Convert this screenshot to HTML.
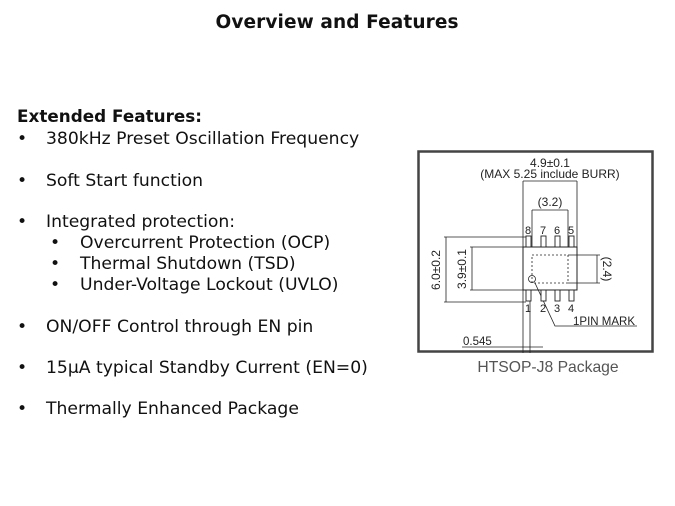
<!DOCTYPE html>
<html><head><meta charset="utf-8"><style>
html,body{margin:0;padding:0;background:#fff;}
svg{display:block;}
.t{font-family:"DejaVu Sans",Verdana,sans-serif;font-size:17.2px;fill:#111;}
.d{font-family:"Liberation Sans",Arial,sans-serif;fill:#222;}
</style></head><body>
<svg width="675" height="506" viewBox="0 0 675 506" xmlns="http://www.w3.org/2000/svg">
<text x="337" y="28" text-anchor="middle" textLength="243" style="font-family:'DejaVu Sans',Verdana,sans-serif;font-weight:bold;font-size:18.5px;fill:#111">Overview and Features</text>
<text x="17" y="122" textLength="185" style="font-family:'DejaVu Sans',Verdana,sans-serif;font-weight:bold;font-size:16.8px;fill:#111">Extended Features:</text>
<g class="t">
<text x="17" y="144">•</text><text x="46" y="144">380kHz Preset Oscillation Frequency</text>
<text x="17" y="186">•</text><text x="46" y="186">Soft Start function</text>
<text x="17" y="227">•</text><text x="46" y="227">Integrated protection:</text>
<text x="50" y="248">•</text><text x="80" y="248">Overcurrent Protection (OCP)</text>
<text x="50" y="269">•</text><text x="80" y="269">Thermal Shutdown (TSD)</text>
<text x="50" y="290">•</text><text x="80" y="290">Under-Voltage Lockout (UVLO)</text>
<text x="17" y="332">•</text><text x="46" y="332">ON/OFF Control through EN pin</text>
<text x="17" y="373">•</text><text x="46" y="373">15µA typical Standby Current (EN=0)</text>
<text x="17" y="414">•</text><text x="46" y="414">Thermally Enhanced Package</text>
</g>
<rect x="418.5" y="151.5" width="234" height="200" fill="none" stroke="#444" stroke-width="2.5"/>
<g stroke="#222" stroke-width="0.8" fill="none">
<rect x="523" y="247" width="54" height="43" stroke-width="1"/>
<rect x="532" y="255" width="36" height="28" stroke-dasharray="2,2"/>
<line x1="523" y1="181" x2="577" y2="181"/>
<line x1="523" y1="181" x2="523" y2="247"/><line x1="577" y1="181" x2="577" y2="247"/>
<line x1="532" y1="210" x2="568" y2="210"/>
<line x1="532" y1="210" x2="532" y2="247"/><line x1="568" y1="210" x2="568" y2="247"/>
<line x1="568" y1="255" x2="600" y2="255"/><line x1="568" y1="283" x2="600" y2="283"/>
<line x1="597" y1="255" x2="597" y2="283"/>
<line x1="444" y1="237" x2="526" y2="237"/><line x1="444" y1="302" x2="526" y2="302"/>
<line x1="446" y1="237" x2="446" y2="302"/>
<line x1="470" y1="247" x2="523" y2="247"/><line x1="470" y1="290" x2="523" y2="290"/>
<line x1="472" y1="247" x2="472" y2="290"/>
<circle cx="532" cy="279" r="3.5"/>
<polyline points="535,283 555,326 637,326"/>
<line x1="523" y1="290" x2="523" y2="353"/><line x1="530" y1="290" x2="530" y2="353"/>
<line x1="462" y1="347" x2="543" y2="347"/>
</g>
<g fill="#fff" stroke="#222" stroke-width="0.9">
<rect x="526" y="236" width="5" height="11"/><rect x="541" y="236" width="5" height="11"/><rect x="555" y="236" width="5" height="11"/><rect x="569" y="236" width="5" height="11"/>
<rect x="526" y="290" width="5" height="11"/><rect x="541" y="290" width="5" height="11"/><rect x="555" y="290" width="5" height="11"/><rect x="569" y="290" width="5" height="11"/>
</g>
<g class="d" font-size="11">
<text x="550" y="167" text-anchor="middle" font-size="12">4.9±0.1</text>
<text x="550" y="178" text-anchor="middle" font-size="12">(MAX 5.25 include BURR)</text>
<text x="550" y="206" text-anchor="middle" font-size="12">(3.2)</text>
<text x="528" y="234" text-anchor="middle">8</text><text x="543" y="234" text-anchor="middle">7</text><text x="557" y="234" text-anchor="middle">6</text><text x="571" y="234" text-anchor="middle">5</text>
<text x="528" y="312" text-anchor="middle">1</text><text x="543" y="312" text-anchor="middle">2</text><text x="557" y="312" text-anchor="middle">3</text><text x="571" y="312" text-anchor="middle">4</text>
<text x="573" y="325" font-size="11.5">1PIN MARK</text>
<text x="463" y="345" font-size="11.5">0.545</text>
<text transform="translate(440,270) rotate(-90)" text-anchor="middle" font-size="12">6.0±0.2</text>
<text transform="translate(466,269) rotate(-90)" text-anchor="middle" font-size="12">3.9±0.1</text>
<text transform="translate(603,269) rotate(90)" text-anchor="middle" font-size="12">(2.4)</text>
</g>
<text x="548" y="372" text-anchor="middle" style="font-family:'Liberation Sans',Arial,sans-serif;font-size:15.7px;fill:#555">HTSOP-J8 Package</text>
</svg>
</body></html>
